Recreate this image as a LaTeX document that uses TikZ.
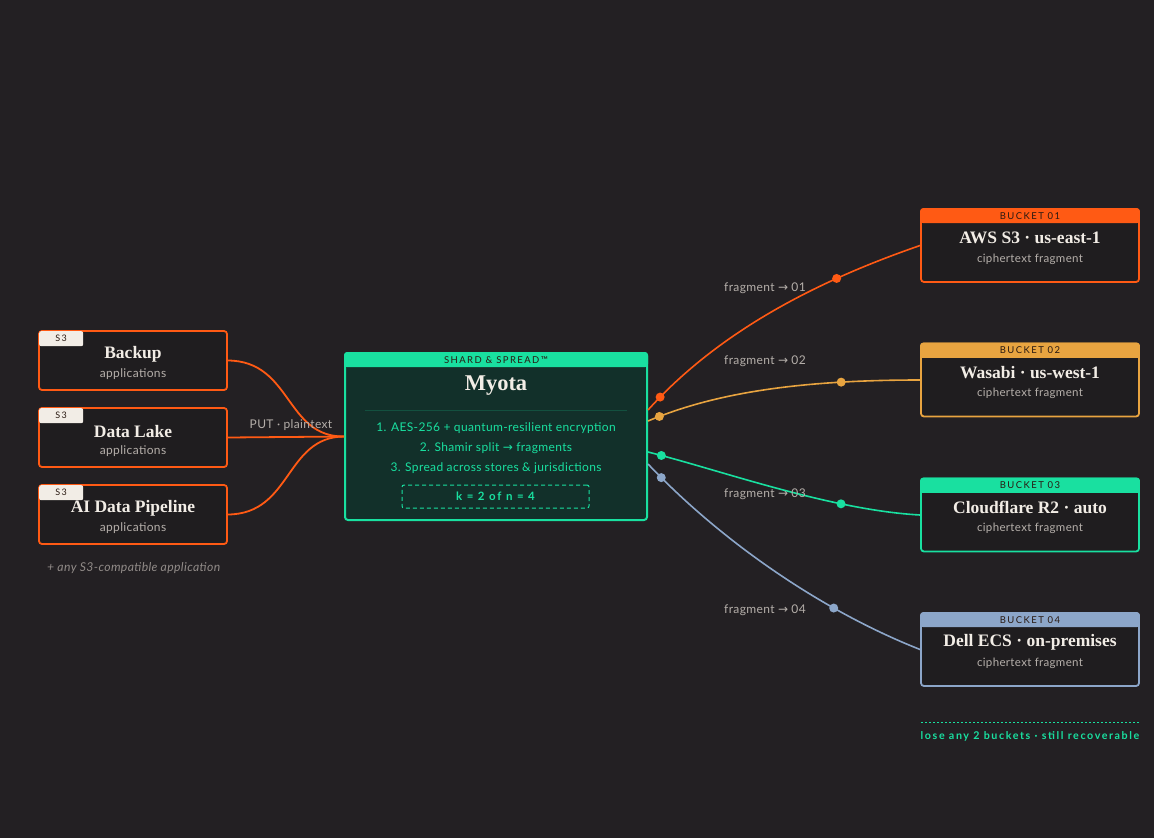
\documentclass[tikz,border=0pt]{standalone}
\usepackage{fontspec}
\setmainfont{Lato}
\newfontfamily\serifb{Liberation Serif}[BoldFont=* Bold]
\newfontfamily\dejavu{DejaVu Sans}
\newfontfamily\lbl{Lato}[LetterSpace=3]
\newfontfamily\caps{Lato}[LetterSpace=15]
\usetikzlibrary{calc}
\definecolor{bgc}{HTML}{232023}
\definecolor{boxc}{HTML}{1F1D1F}
\definecolor{orng}{HTML}{FF5A14}
\definecolor{ambr}{HTML}{E8A440}
\definecolor{grn}{HTML}{19E0A0}
\definecolor{blu}{HTML}{8CA6C9}
\definecolor{mfill}{HTML}{12302A}
\definecolor{txtw}{HTML}{F2EDE6}
\definecolor{txtg}{HTML}{B5AFAA}
\definecolor{hdrtxt}{HTML}{2A1A12}
\newcommand{\arr}{{\dejavu\char"2192}}
\tikzset{
  appbox/.style={draw=orng, line width=1.8pt, fill=boxc, rounded corners=3pt, minimum width=188pt, minimum height=59pt, inner sep=0pt},
  bucketbox/.style={draw=#1, line width=1.8pt, fill=boxc, rounded corners=3pt, minimum width=218pt, minimum height=73pt, inner sep=0pt},
  ttl/.style={text=txtw, font=\serifb\bfseries\fontsize{17.5}{19}\selectfont, inner sep=0pt},
  sub/.style={text=txtg, font=\lbl\fontsize{12}{13}\selectfont, inner sep=0pt},
  hdr/.style={text=hdrtxt, font=\caps\fontsize{9.5}{10}\selectfont, inner sep=0pt},
  tagbox/.style={fill=txtw, text=hdrtxt, font=\caps\fontsize{9}{10}\selectfont, minimum width=44pt, minimum height=15pt, inner sep=0pt, rounded corners=2pt},
  flabel/.style={text=txtg, font=\lbl\fontsize{12}{13}\selectfont, inner sep=0pt},
  step1/.style={text=grn, font=\lbl\fontsize{12}{14}\selectfont, inner sep=0pt},
  fdot/.style={circle, fill=#1, minimum size=9pt, inner sep=0pt},
  wire/.style={line width=1.6pt}
}
\begin{document}
\begin{tikzpicture}[x=1pt,y=-1pt]
\fill[bgc] (0,0) rectangle (1154,838);
\useasboundingbox (0,0) rectangle (1154,838);

% applications
\node[appbox] (b1) at (133,360.5) {};
\node[appbox] (b2) at (133,437.5) {};
\node[appbox] (b3) at (133,514.5) {};
\foreach \b/\t in {b1/Backup, b2/Data Lake, b3/AI Data Pipeline}{
  \node[tagbox, anchor=north west] (\b tag) at ([xshift=0.9pt,yshift=-0.9pt]\b.north west) {S3};
  \node[ttl] (\b ttl) at ($(\b.center)+(0,-6)$) {\t};
  \node[sub] (\b sub) at ($(\b.center)+(0,14)$) {applications};
}
\node[text=txtg!75!bgc, font=\lbl\itshape\fontsize{12.2}{13}\selectfont, anchor=west, inner sep=0pt] (anyapp) at (47,568) {+ any S3-compatible application};

% Myota
\node[draw=grn, line width=2pt, fill=mfill, rounded corners=3pt, minimum width=302pt, minimum height=167pt, inner sep=0pt] (myota) at (496,436.5) {};
\fill[grn, rounded corners=3pt] (myota.north west) rectangle ($(myota.north east)+(0,15)$);
\fill[grn] ($(myota.north west)+(0,8)$) rectangle ($(myota.north east)+(0,15)$);
\node[hdr] (mhdr) at ($(myota.north)+(0,8)$) {SHARD \& SPREAD™};
\node[ttl, font=\serifb\bfseries\fontsize{22.5}{25}\selectfont] (mttl) at (496,386) {Myota};
\draw[grn!18!mfill, line width=0.8pt] (365,410) -- (627,410);
\node[step1] (s1) at (496,428) {1. AES-256 + quantum-resilient encryption};
\node[step1] (s2) at (496,448) {2. Shamir split \arr\ fragments};
\node[step1] (s3) at (496,468) {3. Spread across stores \& jurisdictions};
\node[draw=grn, line width=1pt, dash pattern=on 4pt off 3pt, rounded corners=2pt, minimum width=187pt, minimum height=23pt, inner sep=0pt, text=grn, font=\caps\bfseries\fontsize{11.5}{12}\selectfont] (kn) at (495.5,496.5) {k = 2 of n = 4};

% buckets
\node[bucketbox=orng] (k1) at (1030,245.5) {};
\node[bucketbox=ambr] (k2) at (1030,380) {};
\node[bucketbox=grn] (k3) at (1030,515) {};
\node[bucketbox=blu] (k4) at (1030,649.5) {};
\foreach \k/\c/\n/\t in {k1/orng/01/AWS S3 · us-east-1, k2/ambr/02/Wasabi · us-west-1, k3/grn/03/Cloudflare R2 · auto, k4/blu/04/Dell ECS · on-premises}{
  \fill[\c, rounded corners=3pt] (\k.north west) rectangle ($(\k.north east)+(0,15)$);
  \fill[\c] ($(\k.north west)+(0,8)$) rectangle ($(\k.north east)+(0,15)$);
  \node[hdr] (\k hdr) at ($(\k.north)+(0,7.5)$) {BUCKET \n};
  \node[ttl] (\k ttl) at ($(\k.north)+(0,30)$) {\t};
  \node[sub, font=\lbl\fontsize{11.5}{12}\selectfont] (\k sub) at ($(\k.north)+(0,51)$) {ciphertext fragment};
}

% left wires
\draw[orng, line width=1.8pt] (b1.east) .. controls (292,361) and (285,437) .. (myota.west);
\draw[orng, line width=1.8pt] (b2.east) -- (myota.west);
\draw[orng, line width=1.8pt] (b3.east) .. controls (292,514) and (285,437) .. (myota.west);
\node[flabel] (put) at (291,425) {PUT · plaintext};

% right wires
\draw[orng, wire] ($(myota.east)+(0,-26.5)$) .. controls (720,330) and (820,280) .. (k1.west)
  node[fdot=orng, pos=.055] (d1a) {} node[fdot=orng, pos=.72] (d1b) {};
\draw[ambr, wire] ($(myota.east)+(0,-15.5)$) .. controls (710,395) and (790,380) .. (k2.west)
  node[fdot=ambr, pos=.06] (d2a) {} node[fdot=ambr, pos=.78] (d2b) {};
\draw[grn, wire] ($(myota.east)+(0,15.5)$) .. controls (720,470) and (830,510) .. (k3.west)
  node[fdot=grn, pos=.06] (d3a) {} node[fdot=grn, pos=.72] (d3b) {};
\draw[blu, wire] ($(myota.east)+(0,27.5)$) .. controls (720,540) and (820,610) .. (k4.west)
  node[fdot=blu, pos=.06] (d4a) {} node[fdot=blu, pos=.71] (d4b) {};

\node[flabel] (f1) at (765,288) {fragment \arr\ 01};
\node[flabel] (f2) at (765,361) {fragment \arr\ 02};
\node[flabel] (f3) at (765,494) {fragment \arr\ 03};
\node[flabel] (f4) at (765,610) {fragment \arr\ 04};

% footer
\coordinate (fl) at (921,722);
\coordinate (fr) at (1139,722);
\draw[grn, line width=0.7pt, dash pattern=on 2pt off 2pt] (fl) -- (fr);
\node[text=grn, font=\caps\bfseries\fontsize{10.7}{12}\selectfont, inner sep=0pt] (lose) at (1030,736.5) {lose any 2 buckets · still recoverable};
\end{tikzpicture}
\end{document}
